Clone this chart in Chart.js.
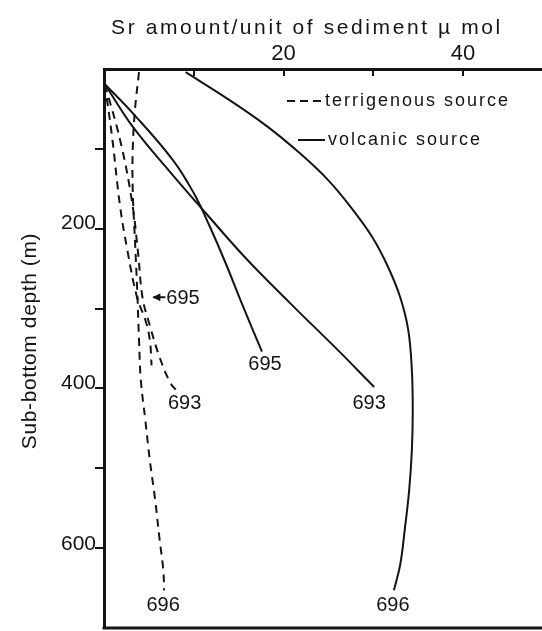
<!DOCTYPE html>
<html><head><meta charset="utf-8">
<script src="https://cdn.jsdelivr.net/npm/chart.js@4"></script>
<style>html,body{margin:0;padding:0;background:#fff}canvas{display:block}</style>
</head><body>
<canvas id="c" width="542" height="631"></canvas>
<script>
// ---- data (Sr amount µmol vs sub-bottom depth m) ----
const xTickLabels = [20, 40];
const yTickLabels = [200, 400, 600];
const xTitle = 'Sr amount/unit of sediment \u00b5 mol';
const yTitle = 'Sub-bottom depth (m)';
const legendLabels = ['terrigenous source', 'volcanic source'];

// volcanic source (solid)
const volc693Sr    = [0.1, 3.2, 7.4, 11.5, 15.7, 20.7, 25.7, 30.1];
const volc693Depth = [19, 72, 129, 182, 235, 292, 347, 397];
const volc695Sr    = [0.1, 3.2, 7.7, 10.1, 11.8, 13.5, 15.4, 17.6];
const volc695Depth = [19, 55, 114, 157, 197, 241, 294, 353];
const volc696Sr    = [9.1, 13.6, 18.1, 21.8, 25.0, 27.6, 29.9, 31.6, 33.0, 33.9, 34.3, 34.4, 34.3, 34.0, 33.5, 33.0, 32.3];
const volc696Depth = [4, 36, 71, 105, 139, 174, 210, 246, 285, 326, 376, 426, 476, 526, 576, 619, 651];

// terrigenous source (dashed)
const terr693Sr    = [0.1, 1.8, 3.1, 3.8, 4.3, 5.1, 6.2, 7.4, 8.2];
const terr693Depth = [19, 89, 164, 230, 286, 320, 360, 392, 403];
const terr695Sr    = [0.1, 0.9, 1.8, 2.6, 3.7, 4.6, 5.1, 5.3];
const terr695Depth = [19, 85, 172, 226, 286, 313, 338, 370];
const terr696Sr    = [3.9, 3.45, 3.2, 3.2, 3.45, 3.7, 3.9, 4.1, 4.6, 5.1, 5.7, 6.2, 6.6, 6.7];
const terr696Depth = [4, 51, 101, 151, 214, 276, 338, 388, 438, 488, 538, 588, 625, 651];

const siteNames = ['693', '695', '696'];

const ink = '#141414';
const FONT = '"Liberation Sans", Arial, sans-serif';

function pts(xs, ys){ return xs.map((v,i)=>({x:v, y:ys[i]})); }

function series(name, xs, ys, dashed, lab){
  return {
    label: name, data: pts(xs, ys), showLine: true, pointRadius: 0,
    borderColor: ink, borderWidth: 2, borderDash: dashed ? [8,6] : [],
    tension: 0.4, fill: false, clip: 4, endLabel: lab
  };
}

const datasets = [
  series('volcanic 693', volc693Sr, volc693Depth, false, {text: siteNames[0], dx: -5, dy: 17}),
  series('volcanic 695', volc695Sr, volc695Depth, false, {text: siteNames[1], dx: 3, dy: 13}),
  series('volcanic 696', volc696Sr, volc696Depth, false, {text: siteNames[2], dx: -1, dy: 15}),
  series('terrigenous 693', terr693Sr, terr693Depth, true, {text: siteNames[0], dx: 7, dy: 12}),
  series('terrigenous 695', terr695Sr, terr695Depth, true, null),
  series('terrigenous 696', terr696Sr, terr696Depth, true, {text: siteNames[2], dx: -1, dy: 15})
];

const overlay = {
  id: 'overlay',
  afterDraw(chart){
    const {ctx, chartArea: a, scales: {x, y}} = chart;
    ctx.save();
    ctx.strokeStyle = ink; ctx.fillStyle = ink;
    // bottom frame line
    ctx.lineWidth = 3;
    ctx.beginPath(); ctx.moveTo(a.left - 1.5, a.bottom); ctx.lineTo(a.right, a.bottom); ctx.stroke();
    // x ticks (inward)
    ctx.lineWidth = 2;
    x.ticks.map(t => t.value).filter(v => v > 0 && v < x.max).forEach(v => {
      const px = Math.round(x.getPixelForValue(v));
      ctx.beginPath(); ctx.moveTo(px, a.top); ctx.lineTo(px, a.top + 7); ctx.stroke();
    });
    // y ticks (outward)
    y.ticks.map(t => t.value).filter(v => v > 0 && v < y.max).forEach(v => {
      const py = Math.round(y.getPixelForValue(v));
      ctx.beginPath(); ctx.moveTo(a.left, py); ctx.lineTo(a.left - 9, py); ctx.stroke();
    });
    // y tick labels (sit just above their tick)
    ctx.font = '21px ' + FONT;
    ctx.textAlign = 'right'; ctx.textBaseline = 'alphabetic';
    yTickLabels.forEach(v => {
      ctx.fillText(String(v), a.left - 8, Math.round(y.getPixelForValue(v)));
    });

    // titles
    ctx.textAlign = 'center'; ctx.textBaseline = 'middle';
    ctx.font = '21px ' + FONT;
    ctx.letterSpacing = '2.6px';
    ctx.fillText(xTitle, 307, 28);
    ctx.save();
    ctx.translate(30, 341); ctx.rotate(-Math.PI/2);
    ctx.letterSpacing = '0.6px';
    ctx.fillText(yTitle, 0, 0);
    ctx.restore();

    // end labels
    ctx.letterSpacing = '0px';
    ctx.font = '20px ' + FONT;
    chart.data.datasets.forEach(ds => {
      if (!ds.endLabel) return;
      const p = ds.data[ds.data.length - 1];
      ctx.fillText(ds.endLabel.text, x.getPixelForValue(p.x) + ds.endLabel.dx, y.getPixelForValue(p.y) + ds.endLabel.dy);
    });
    // arrow label for terrigenous 695
    const ax = x.getPixelForValue(5.5), ay = y.getPixelForValue(285);
    ctx.lineWidth = 2;
    ctx.beginPath(); ctx.moveTo(ax, ay); ctx.lineTo(ax + 12, ay); ctx.stroke();
    ctx.beginPath(); ctx.moveTo(ax - 1, ay); ctx.lineTo(ax + 7, ay - 4); ctx.lineTo(ax + 7, ay + 4); ctx.closePath(); ctx.fill();
    ctx.textAlign = 'left';
    ctx.fillText(siteNames[1], ax + 13, ay + 1);

    // legend
    ctx.font = '18px ' + FONT;
    ctx.letterSpacing = '2px';
    const lx = a.left + 183, ly1 = a.top + 32, ly2 = a.top + 71;
    ctx.lineWidth = 2;
    ctx.setLineDash([8, 5]);
    ctx.beginPath(); ctx.moveTo(lx, ly1); ctx.lineTo(lx + 36, ly1); ctx.stroke();
    ctx.setLineDash([]);
    ctx.fillText(legendLabels[0], lx + 38, ly1);
    ctx.beginPath(); ctx.moveTo(lx + 11, ly2); ctx.lineTo(lx + 38, ly2); ctx.stroke();
    ctx.fillText(legendLabels[1], lx + 41, ly2);
    ctx.restore();
  }
};

new Chart(document.getElementById('c'), {
  type: 'scatter',
  data: { datasets },
  options: {
    responsive: false, animation: false, devicePixelRatio: 1,
    layout: { padding: { left: 0, top: 0, right: 0, bottom: 3 } },
    plugins: { legend: { display: false }, tooltip: { enabled: false } },
    scales: {
      x: {
        type: 'linear', position: 'top', min: 0, max: 48.8,
        grid: { display: false },
        border: { display: true, width: 3, color: ink },
        ticks: {
          stepSize: 10, autoSkip: false, maxRotation: 0, padding: -6,
          color: ink, font: { size: 22, family: FONT },
          callback: v => xTickLabels.includes(v) ? String(v) : ''
        },
        afterFit: s => { s.height = 69; }
      },
      y: {
        type: 'linear', position: 'left', reverse: true, min: 0, max: 698,
        grid: { display: false },
        border: { display: true, width: 3, color: ink },
        ticks: { stepSize: 100, display: false },
        afterFit: s => { s.width = 104; }
      }
    }
  },
  plugins: [overlay]
});
</script>
</body></html>
